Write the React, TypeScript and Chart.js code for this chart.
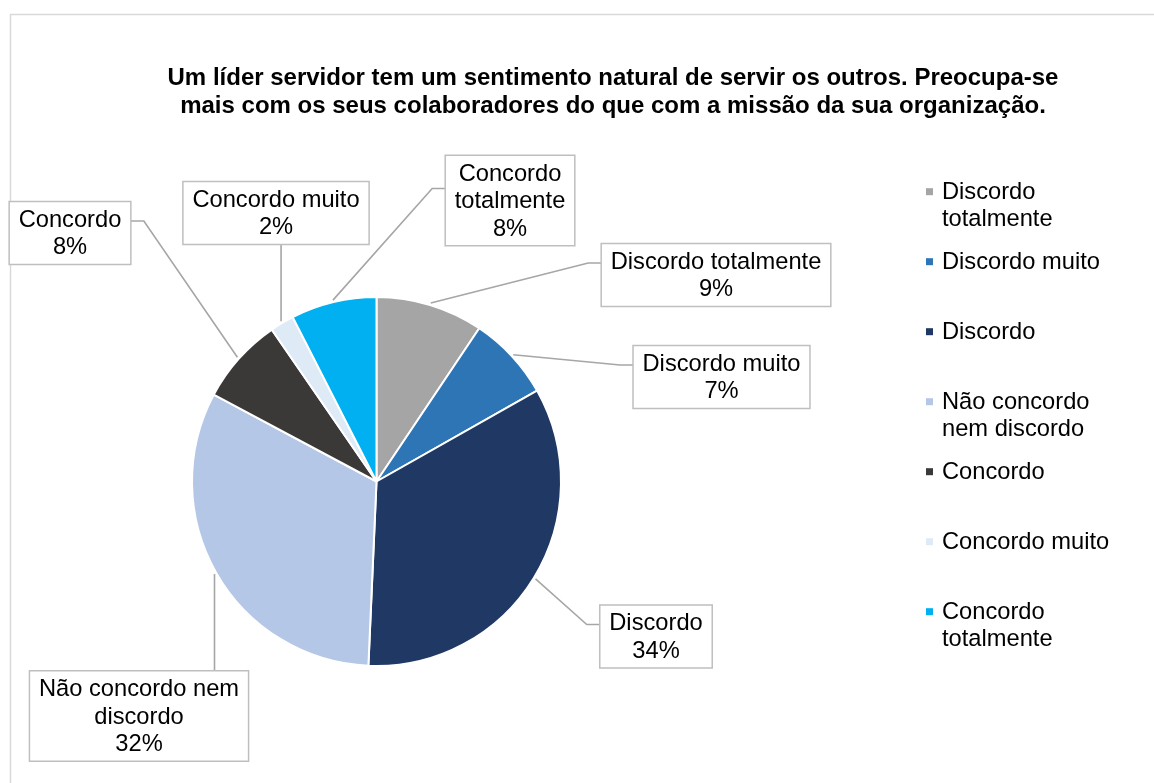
import React, { useEffect, useRef } from "react";
import { Chart, registerables } from "chart.js";

Chart.register(...registerables);

// ---- data ----
const titleLines = [
  "Um líder servidor tem um sentimento natural de servir os outros. Preocupa-se",
  "mais com os seus colaboradores do que com a missão da sua organização.",
];
const categories = [
  "Discordo totalmente",
  "Discordo muito",
  "Discordo",
  "Não concordo nem discordo",
  "Concordo",
  "Concordo muito",
  "Concordo totalmente",
];
const percentages = [9.4, 7.4, 33.9, 32.1, 7.6, 2.1, 7.5];

// ---- styles / layout ----
const sliceColors = ["#A5A5A5", "#2E75B6", "#203864", "#B4C7E7", "#3B3838", "#DEEBF7", "#00B0F0"];
// label box centre offsets from the pie centre (px)
const labelOffsets: [number, number][] = [
  [339.5, -206.5],
  [345, -104.5],
  [279.5, 155],
  [-237.5, 234.5],
  [-306.5, -248.5],
  [-100.5, -268.5],
  [133.5, -281],
];
const FONT = '"Liberation Sans", Arial, sans-serif';
const LABEL_FONT = `23.7px ${FONT}`;

function wrap(ctx: CanvasRenderingContext2D, text: string, maxW: number): string[] {
  const words = text.split(" ");
  const lines: string[] = [];
  let cur = "";
  for (const w of words) {
    const test = cur ? cur + " " + w : w;
    if (cur && ctx.measureText(test).width > maxW) {
      lines.push(cur);
      cur = w;
    } else cur = test;
  }
  if (cur) lines.push(cur);
  return lines;
}

const overlayPlugin = {
  id: "overlay",
  beforeDraw(chart: any) {
    const ctx: CanvasRenderingContext2D = chart.ctx;
    ctx.save();
    ctx.strokeStyle = "#D9D9D9";
    ctx.lineWidth = 1.5;
    ctx.strokeRect(10.5, 14.5, 1400, 1000);
    ctx.restore();
  },
  afterDraw(chart: any) {
    const ctx: CanvasRenderingContext2D = chart.ctx;
    ctx.save();
    // title
    ctx.font = `bold 24px ${FONT}`;
    ctx.fillStyle = "#000";
    ctx.textAlign = "center";
    ctx.textBaseline = "middle";
    titleLines.forEach((l, i) => ctx.fillText(l, 613, 78 + i * 28));

    // data labels with leader lines
    const meta = chart.getDatasetMeta(0);
    meta.data.forEach((arc: any, i: number) => {
      const { x, y, startAngle, endAngle, outerRadius } = arc.getProps(
        ["x", "y", "startAngle", "endAngle", "outerRadius"],
        true
      );
      const mid = (startAngle + endAngle) / 2;
      const px = x + Math.cos(mid) * (outerRadius + 2);
      const py = y + Math.sin(mid) * (outerRadius + 2);
      ctx.font = LABEL_FONT;
      const pct = Math.round(percentages[i]) + "%";
      const lines = [...wrap(ctx, categories[i], 215), pct];
      const w = Math.max(...lines.map((l) => ctx.measureText(l).width)) + 19;
      const h = lines.length * 27.5 + 8;
      const cx = x + labelOffsets[i][0];
      const cy = y + labelOffsets[i][1];
      const L = cx - w / 2, R = cx + w / 2, T = cy - h / 2, B = cy + h / 2;

      ctx.strokeStyle = "#A6A6A6";
      ctx.lineWidth = 1.6;
      ctx.beginPath();
      ctx.moveTo(px, py);
      if (px >= L && px <= R) {
        ctx.lineTo(px, py < T ? T : B);
      } else if (px < L) {
        ctx.lineTo(L - 13, cy - 12);
        ctx.lineTo(L, cy - 12);
      } else {
        ctx.lineTo(R + 13, cy - 12);
        ctx.lineTo(R, cy - 12);
      }
      ctx.stroke();

      ctx.fillStyle = "#FFFFFF";
      ctx.fillRect(L, T, w, h);
      ctx.strokeStyle = "#BFBFBF";
      ctx.lineWidth = 1.5;
      ctx.strokeRect(L, T, w, h);

      ctx.fillStyle = "#000";
      ctx.textAlign = "center";
      ctx.textBaseline = "middle";
      lines.forEach((l, j) => ctx.fillText(l, cx, T + 4 + 27.5 * (j + 0.5) + 1));
    });

    // legend
    ctx.font = LABEL_FONT;
    ctx.textAlign = "left";
    ctx.textBaseline = "middle";
    categories.forEach((c, i) => {
      const y0 = 191.7 + i * 70;
      ctx.fillStyle = sliceColors[i];
      ctx.fillRect(926, y0 - 3.5, 7, 7);
      ctx.fillStyle = "#000";
      wrap(ctx, c, 185).forEach((l, j) => ctx.fillText(l, 942, y0 + j * 26.5 + 1));
    });
    ctx.restore();
  },
};

export default function App() {
  const canvasRef = useRef<HTMLCanvasElement | null>(null);
  useEffect(() => {
    if (!canvasRef.current) return;
    const chart = new Chart(canvasRef.current, {
      type: "pie",
      data: {
        labels: categories,
        datasets: [
          {
            data: percentages,
            backgroundColor: sliceColors,
            borderColor: "#FFFFFF",
            borderWidth: 2,
          },
        ],
      },
      options: {
        responsive: false,
        animation: false,
        layout: { padding: { left: 191, right: 592, top: 296, bottom: 116 } },
        plugins: {
          legend: { display: false },
          title: { display: false },
          tooltip: { enabled: false },
        },
      },
      plugins: [overlayPlugin],
    });
    return () => chart.destroy();
  }, []);
  return (
    <div style={{ position: "absolute", left: 0, top: 0, width: 1154, height: 783, background: "#fff" }}>
      <canvas ref={canvasRef} width={1154} height={783} style={{ display: "block" }} />
    </div>
  );
}
